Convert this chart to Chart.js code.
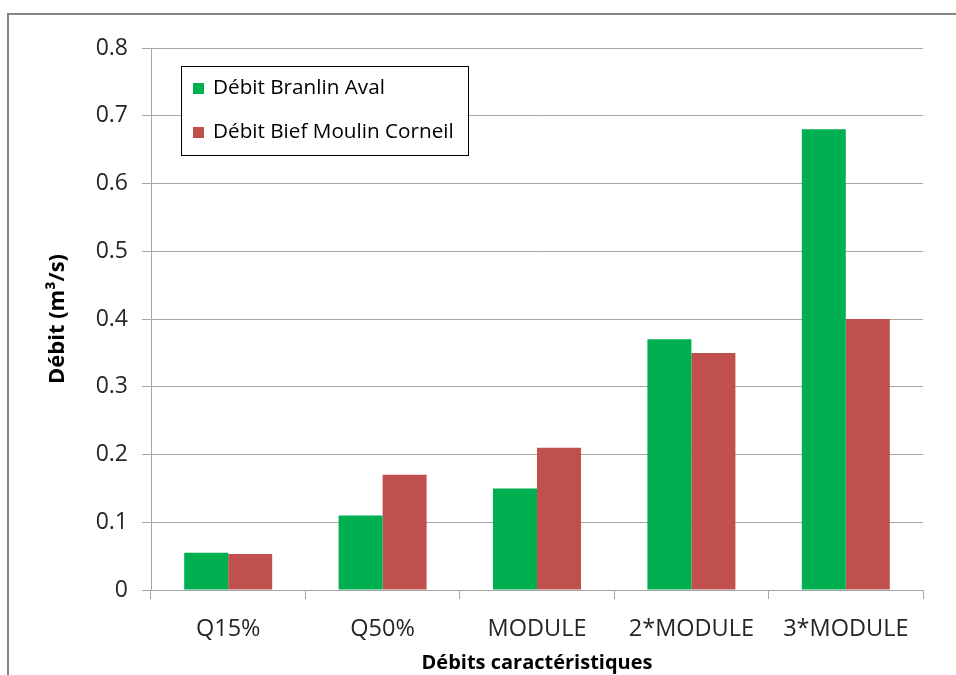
<!DOCTYPE html>
<html>
<head>
<meta charset="utf-8">
<script src="https://cdn.jsdelivr.net/npm/chart.js@4"></script>
<style>
  html, body { margin: 0; padding: 0; background: #fff; }
  #wrap { width: 956px; height: 675px; position: relative; }
</style>
</head>
<body>
<div id="wrap"><canvas id="chart" width="956" height="675"></canvas></div>
<script>
const categories = ['Q15%', 'Q50%', 'MODULE', '2*MODULE', '3*MODULE'];
const branlinAval = [0.055, 0.11, 0.15, 0.37, 0.68];
const biefMoulinCorneil = [0.053, 0.17, 0.21, 0.35, 0.40];
const yTicks = [0, 0.1, 0.2, 0.3, 0.4, 0.5, 0.6, 0.7, 0.8];

const FONT = "'Open Sans', 'Liberation Sans', sans-serif";
const GRID = '#a6a6a6';

// outer frame of the chart sheet, runs off the right and bottom edges
const framePlugin = {
  id: 'frame',
  beforeDraw(chart) {
    const ctx = chart.ctx;
    ctx.save();
    ctx.strokeStyle = '#868686';
    ctx.lineWidth = 2;
    ctx.strokeRect(8, 14, 1000, 700);
    ctx.restore();
  }
};

// boxed legend sitting inside the plot area, top left
const boxLegend = {
  id: 'boxLegend',
  afterDraw(chart) {
    const ctx = chart.ctx;
    const x = 181.5, y = 66.5, w = 287, h = 89;
    ctx.save();
    ctx.fillStyle = '#fff';
    ctx.fillRect(x, y, w, h);
    ctx.strokeStyle = '#000';
    ctx.lineWidth = 1;
    ctx.strokeRect(x, y, w, h);
    ctx.font = '20.7px ' + FONT;
    ctx.textBaseline = 'middle';
    chart.data.datasets.forEach((ds, i) => {
      const cy = 88.5 + i * 44;
      ctx.fillStyle = ds.backgroundColor;
      ctx.fillRect(193, cy - 5.5, 11, 11);
      ctx.fillStyle = '#000';
      ctx.fillText(ds.label, 213, cy);
    });
    ctx.restore();
  }
};

new Chart(document.getElementById('chart'), {
  type: 'bar',
  data: {
    labels: categories,
    datasets: [
      { label: 'Débit Branlin Aval', data: branlinAval, backgroundColor: '#00b050' },
      { label: 'Débit Bief Moulin Corneil', data: biefMoulinCorneil, backgroundColor: '#c0504d' }
    ]
  },
  options: {
    responsive: false,
    animation: false,
    devicePixelRatio: 1,
    layout: { padding: { top: 48, right: 33, left: 0, bottom: 0 } },
    datasets: { bar: { categoryPercentage: 0.57, barPercentage: 1 } },
    plugins: {
      legend: { display: false },
      tooltip: { enabled: false }
    },
    scales: {
      x: {
        grid: { drawOnChartArea: false, color: GRID, tickLength: 9 },
        border: { color: GRID },
        ticks: { color: '#262626', font: { family: FONT, size: 23.5 }, padding: 16, maxRotation: 0 },
        title: {
          display: true,
          text: 'Débits caractéristiques',
          color: '#000',
          font: { family: FONT, size: 20, weight: 'bold' },
          padding: { top: 0, bottom: 0 }
        },
        afterFit(scale) { scale.height = 85; }
      },
      y: {
        min: 0,
        max: 0.8,
        afterBuildTicks(scale) { scale.ticks = yTicks.map(v => ({ value: v })); },
        grid: { color: GRID, tickLength: 9 },
        border: { color: GRID },
        ticks: {
          color: '#262626',
          font: { family: FONT, size: 23 },
          padding: 14,
          callback: v => String(v)
        },
        title: {
          display: true,
          text: 'Débit (m³/s)',
          color: '#000',
          font: { family: FONT, size: 22, weight: 'bold' },
          padding: { top: 45, bottom: 0 }
        },
        afterFit(scale) { scale.width = 151; }
      }
    }
  },
  plugins: [framePlugin, boxLegend]
});
</script>
</body>
</html>
